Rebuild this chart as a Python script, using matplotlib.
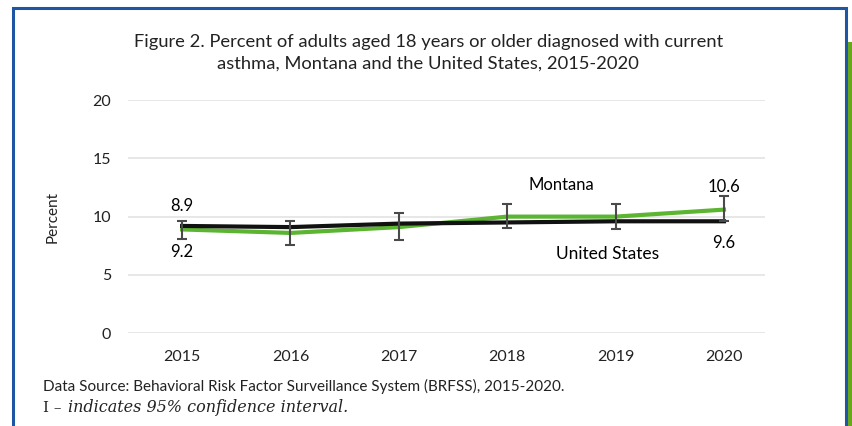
import matplotlib.pyplot as plt
from matplotlib.patches import Rectangle

# Data
years = [2015, 2016, 2017, 2018, 2019, 2020]
montana = [8.9, 8.6, 9.1, 10.0, 10.0, 10.6]
montana_low = [8.1, 7.6, 8.0, 9.0, 8.9, 9.6]
montana_high = [9.6, 9.6, 10.3, 11.1, 11.1, 11.8]
us = [9.2, 9.1, 9.4, 9.5, 9.6, 9.6]
y_ticks = [0, 5, 10, 15, 20]

plt.rcParams['font.family'] = ['Lato', 'DejaVu Sans']

fig = plt.figure(figsize=(8.53, 4.26), dpi=100, facecolor='white')
ax = fig.add_axes([0.150, 0.218, 0.747, 0.547])

# Frame around the figure
fig.patches.append(Rectangle((13 / 853, -0.05), 833 / 853, 1.05 - 8 / 426,
                             transform=fig.transFigure, fill=False,
                             edgecolor='#1f56a3', lw=2.2, zorder=0))
fig.patches.append(Rectangle((848 / 853, 0), 5 / 853, 1 - 42 / 426,
                             transform=fig.transFigure, facecolor='#67a81c',
                             edgecolor='none', zorder=0))

# Lines
err = [[m - lo for m, lo in zip(montana, montana_low)],
       [hi - m for m, hi in zip(montana, montana_high)]]
ax.plot(years, montana, color='#5bb531', lw=3, zorder=3)
ax.plot(years, us, color='#111111', lw=3, zorder=4)
ax.errorbar(years, montana, yerr=err, fmt='none', ecolor='#4a4a4a',
            elinewidth=1.5, capsize=3.5, capthick=1.5, zorder=5)

# Axes format
ax.set_xlim(2014.5, 2020.38)
ax.set_ylim(0, 20)
ax.set_xticks(years)
ax.set_yticks(y_ticks)
ax.tick_params(length=0, labelsize=11.5, colors='#222222')
ax.tick_params(axis='x', pad=12)
ax.tick_params(axis='y', pad=12)
for s in ax.spines.values():
    s.set_visible(False)
ax.grid(True, axis='y', color='#e3e3e3', lw=1.2)
ax.set_axisbelow(True)
ax.set_ylabel('Percent', fontsize=11, color='#222222', labelpad=24)

# Annotations
ax.text(2015, 10.9, '8.9', ha='center', va='center', fontsize=12)
ax.text(2015, 7.0, '9.2', ha='center', va='center', fontsize=12)
ax.text(2018.5, 12.7, 'Montana', ha='center', va='center', fontsize=12)
ax.text(2020, 12.5, '10.6', ha='center', va='center', fontsize=12)
ax.text(2020, 7.7, '9.6', ha='center', va='center', fontsize=12)
ax.text(2018.93, 6.8, 'United States', ha='center', va='center', fontsize=12.5)

# Title
fig.text(0.502, 1 - 42 / 426, 'Figure 2. Percent of adults aged 18 years or older diagnosed with current',
         ha='center', va='center', fontsize=13.2, color='#222222')
fig.text(0.502, 1 - 64 / 426, 'asthma, Montana and the United States, 2015-2020',
         ha='center', va='center', fontsize=13.2, color='#222222')

# Footer
fig.text(43 / 853, 1 - 386 / 426, 'Data Source: Behavioral Risk Factor Surveillance System (BRFSS), 2015-2020.',
         ha='left', va='center', fontsize=11, color='#222222')
fig.text(43 / 853, 1 - 408 / 426, 'I \u2013', ha='left', va='center', fontsize=11,
         color='#222222', family='DejaVu Serif')
fig.text(68 / 853, 1 - 408 / 426, 'indicates 95% confidence interval.', ha='left', va='center',
         fontsize=11.5, color='#222222', family='DejaVu Serif', style='italic')

fig.savefig('out.png', dpi=100, facecolor='white')
